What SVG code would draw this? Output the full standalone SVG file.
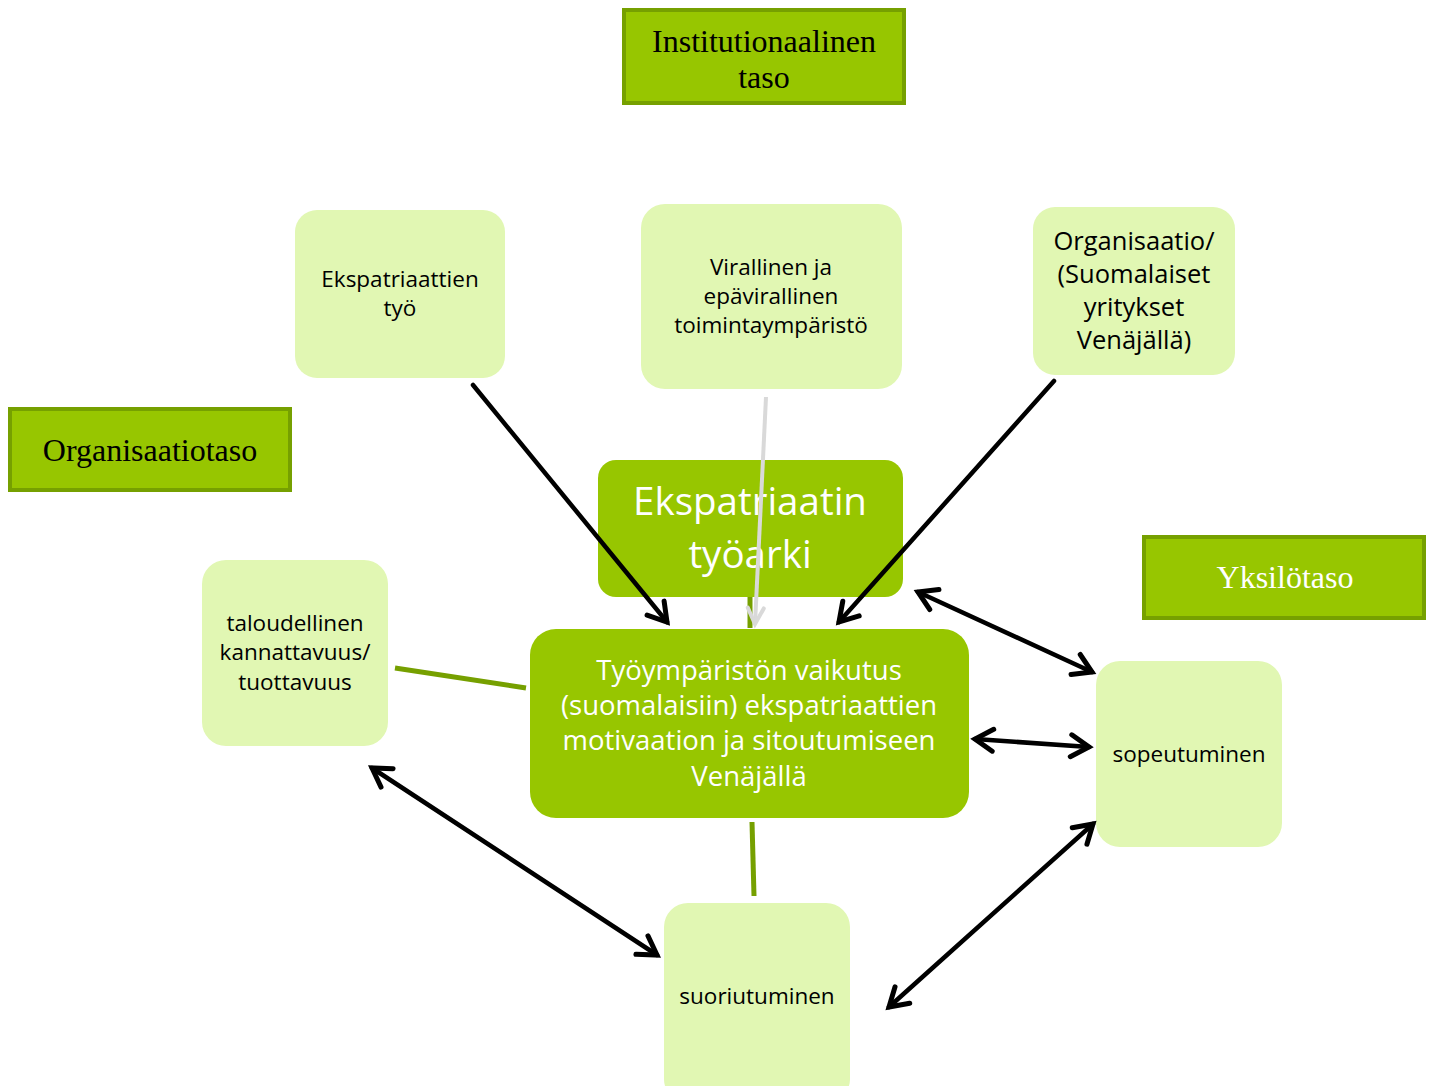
<svg xmlns="http://www.w3.org/2000/svg" width="1434" height="1086" viewBox="0 0 1434 1086">
<style>
.lvl{fill:#97c600;stroke:#76a000;stroke-width:4}
.lt{fill:#e1f7b3}
.dk{fill:#97c600}
.tt{font-family:"Liberation Serif","Times New Roman",serif;font-size:32px;text-anchor:middle}
.t{font-family:"Open Sans","Liberation Sans",sans-serif;text-anchor:middle;fill:#000}
.w{font-family:"Open Sans","Liberation Sans",sans-serif;text-anchor:middle;fill:#fff}
.a{stroke:#000;stroke-width:4.5;fill:none;stroke-linecap:round}
.g{stroke:#76a000;stroke-width:5;fill:none}
</style>
<defs>
<marker id="ah" markerUnits="userSpaceOnUse" viewBox="-24 -14 28 28" markerWidth="28" markerHeight="28" refX="0" refY="0" orient="auto-start-reverse" overflow="visible">
<path d="M-18,-11 L0,0 L-18,11" stroke="#000" stroke-width="5" fill="none" stroke-linecap="round" stroke-linejoin="miter"/>
</marker>
<marker id="ahg" markerUnits="userSpaceOnUse" viewBox="-24 -14 28 28" markerWidth="28" markerHeight="28" refX="0" refY="0" orient="auto" overflow="visible">
<path d="M-16,-8 L0,0 L-16,8" stroke="#d9d9d9" stroke-width="4" fill="none" stroke-linecap="round"/>
</marker>
</defs>
<rect width="1434" height="1086" fill="#fff"/>
<g id="level-institutional">
<rect class="lvl" x="624" y="10" width="280" height="93"/>
<text class="tt" x="764" y="52">Institutionaalinen</text>
<text class="tt" x="764" y="88">taso</text>
</g>
<g id="level-organisation">
<rect class="lvl" x="10" y="409" width="280" height="81"/>
<text class="tt" x="150" y="461">Organisaatiotaso</text>
</g>
<g id="level-individual">
<rect class="lvl" x="1144" y="537" width="280" height="81"/>
<text class="tt" x="1285" y="588" fill="#fff">Yksilötaso</text>
</g>
<g id="connectors-back">
<line class="g" x1="395" y1="668" x2="526" y2="688"/>
<line class="g" x1="752" y1="822" x2="754" y2="896"/>
<line class="g" x1="750" y1="596" x2="750" y2="628"/>
</g>
<g id="node-ekspatriaattien-tyo">
<rect class="lt" x="295" y="210" width="210" height="168" rx="22"/>
<text class="t" x="400" y="287" font-size="22.5">Ekspatriaattien</text>
<text class="t" x="400" y="316" font-size="22.5">työ</text>
</g>
<g id="node-virallinen">
<rect class="lt" x="641" y="204" width="261" height="185" rx="24"/>
<text class="t" x="771" y="275" font-size="22.5">Virallinen ja</text>
<text class="t" x="771" y="304" font-size="22.5">epävirallinen</text>
<text class="t" x="771" y="333" font-size="22.5">toimintaympäristö</text>
</g>
<g id="node-organisaatio">
<rect class="lt" x="1033" y="207" width="202" height="168" rx="22"/>
<text class="t" x="1134" y="250" font-size="25.5">Organisaatio/</text>
<text class="t" x="1134" y="283" font-size="25.5">(Suomalaiset</text>
<text class="t" x="1134" y="316" font-size="25.5">yritykset</text>
<text class="t" x="1134" y="349" font-size="25.5">Venäjällä)</text>
</g>
<g id="node-tyoarki">
<rect class="dk" x="598" y="460" width="305" height="137" rx="18"/>
<text class="w" x="750" y="515" font-size="38.5">Ekspatriaatin</text>
<text class="w" x="750" y="568" font-size="38.5">työarki</text>
</g>
<g id="node-tyoymparisto">
<rect class="dk" x="530" y="629" width="439" height="189" rx="26"/>
<text class="w" x="749" y="680" font-size="27.5">Työympäristön vaikutus</text>
<text class="w" x="749" y="715" font-size="27.5">(suomalaisiin) ekspatriaattien</text>
<text class="w" x="749" y="750" font-size="27.5">motivaation ja sitoutumiseen</text>
<text class="w" x="749" y="786" font-size="27.5">Venäjällä</text>
</g>
<g id="node-taloudellinen">
<rect class="lt" x="202" y="560" width="186" height="186" rx="24"/>
<text class="t" x="295" y="631" font-size="22.5">taloudellinen</text>
<text class="t" x="295" y="660" font-size="22.5">kannattavuus/</text>
<text class="t" x="295" y="690" font-size="22.5">tuottavuus</text>
</g>
<g id="node-sopeutuminen">
<rect class="lt" x="1096" y="661" width="186" height="186" rx="24"/>
<text class="t" x="1189" y="762" font-size="22.5">sopeutuminen</text>
</g>
<g id="node-suoriutuminen">
<rect class="lt" x="664" y="903" width="186" height="200" rx="24"/>
<text class="t" x="757" y="1004" font-size="22.5">suoriutuminen</text>
</g>
<g id="connectors">
<line class="a" x1="473" y1="385" x2="667" y2="622" marker-end="url(#ah)"/>
<line class="a" x1="1054" y1="381" x2="839" y2="622" marker-end="url(#ah)"/>
<line x1="766" y1="397" x2="755" y2="624" stroke="#d9d9d9" stroke-width="4" marker-end="url(#ahg)"/>
<line class="a" x1="918" y1="592" x2="1092" y2="672" marker-start="url(#ah)" marker-end="url(#ah)"/>
<line class="a" x1="975" y1="739" x2="1089" y2="747" marker-start="url(#ah)" marker-end="url(#ah)"/>
<line class="a" x1="372" y1="768" x2="657" y2="955" marker-start="url(#ah)" marker-end="url(#ah)"/>
<line class="a" x1="1093" y1="824" x2="889" y2="1007" marker-start="url(#ah)" marker-end="url(#ah)"/>
</g>
</svg>
